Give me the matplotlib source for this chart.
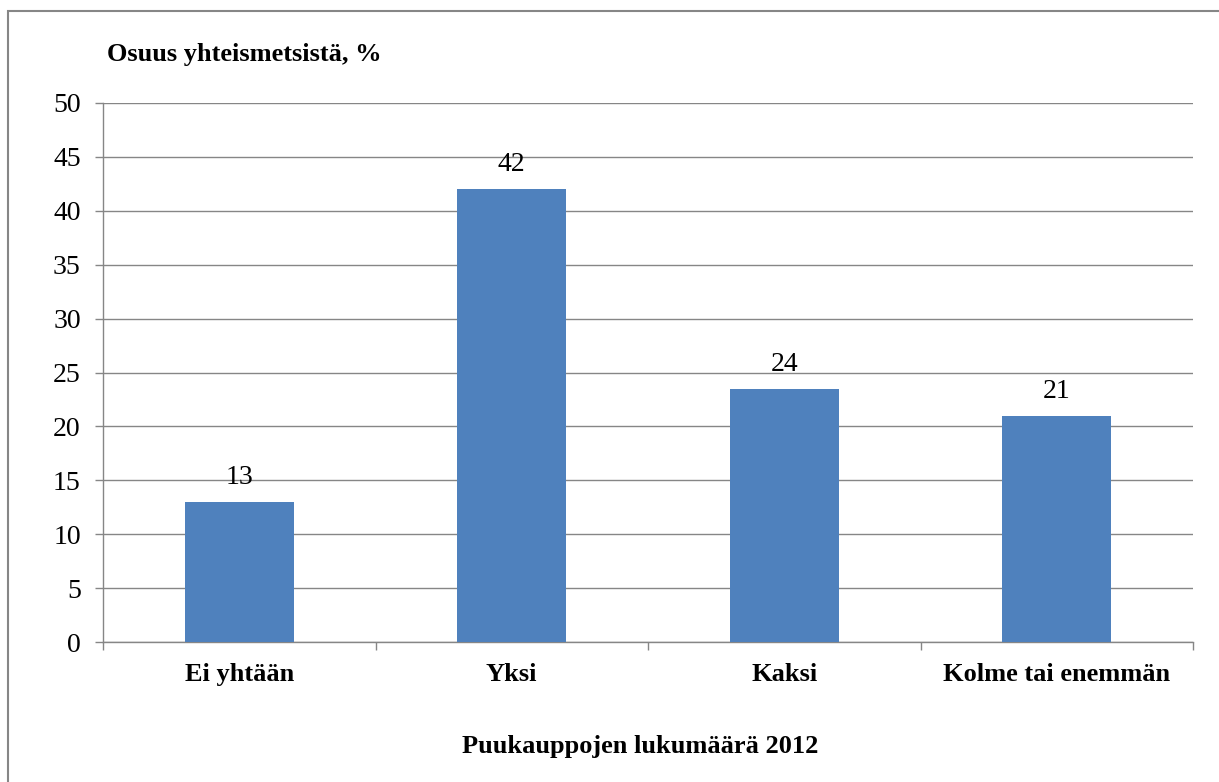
import matplotlib.pyplot as plt
from matplotlib.patches import Rectangle

# Data
categories = ["Ei yhtään", "Yksi", "Kaksi", "Kolme tai enemmän"]
values = [13, 42, 23.5, 21]
value_labels = ["13", "42", "24", "21"]
y_ticks = [0, 5, 10, 15, 20, 25, 30, 35, 40, 45, 50]

plt.rcParams['font.family'] = ['Liberation Serif', 'DejaVu Serif']

W, H = 1219, 782
fig = plt.figure(figsize=(W / 100, H / 100), dpi=100)
ax = fig.add_axes([103 / W, 1 - 642 / H, (1193 - 103) / W, (642 - 103) / H])

grid_color = '#868686'
x = list(range(len(categories)))
bars = ax.bar(x, values, width=0.4, color='#4F81BD', zorder=3)

for xi, v, lab in zip(x, values, value_labels):
    ax.annotate(lab, (xi, v), xytext=(0, 13), textcoords='offset points',
                ha='center', va='baseline', fontsize=20, zorder=4)

ax.set_xlim(-0.5, len(categories) - 0.5)
ax.set_ylim(0, 50)
ax.set_yticks(y_ticks)
ax.yaxis.grid(True, color=grid_color, linewidth=1.0, zorder=0)

# category boundaries as ticks, labels at centres
ax.set_xticks([i - 0.5 for i in range(len(categories) + 1)])
ax.set_xticklabels([])
ax.set_xticks(x, minor=True)
ax.set_xticklabels(categories, minor=True, fontsize=19, fontweight='bold')
ax.tick_params(axis='x', which='major', length=6, width=1.0, color=grid_color, direction='out')
ax.tick_params(axis='x', which='minor', length=0, pad=15)
ax.tick_params(axis='y', length=6, width=1.0, color=grid_color, direction='out', labelsize=20, pad=10)

for side in ['top', 'right']:
    ax.spines[side].set_visible(False)
for side in ['left', 'bottom']:
    ax.spines[side].set_color(grid_color)
    ax.spines[side].set_linewidth(1.0)

fig.text(107 / W, 1 - 55 / H, "Osuus yhteismetsistä, %", fontsize=19, fontweight='bold',
         ha='left', va='center')
fig.text(640 / W, 1 - 747 / H, "Puukauppojen lukumäärä 2012", fontsize=19, fontweight='bold',
         ha='center', va='center')

# outer frame (runs off the right and bottom edges)
fig.patches.append(Rectangle((8 / W, -0.1), 1.2, 1 - 11 / H + 0.1, transform=fig.transFigure,
                             fill=False, edgecolor='#868686', linewidth=1.5))

fig.savefig('out.png', dpi=100)
